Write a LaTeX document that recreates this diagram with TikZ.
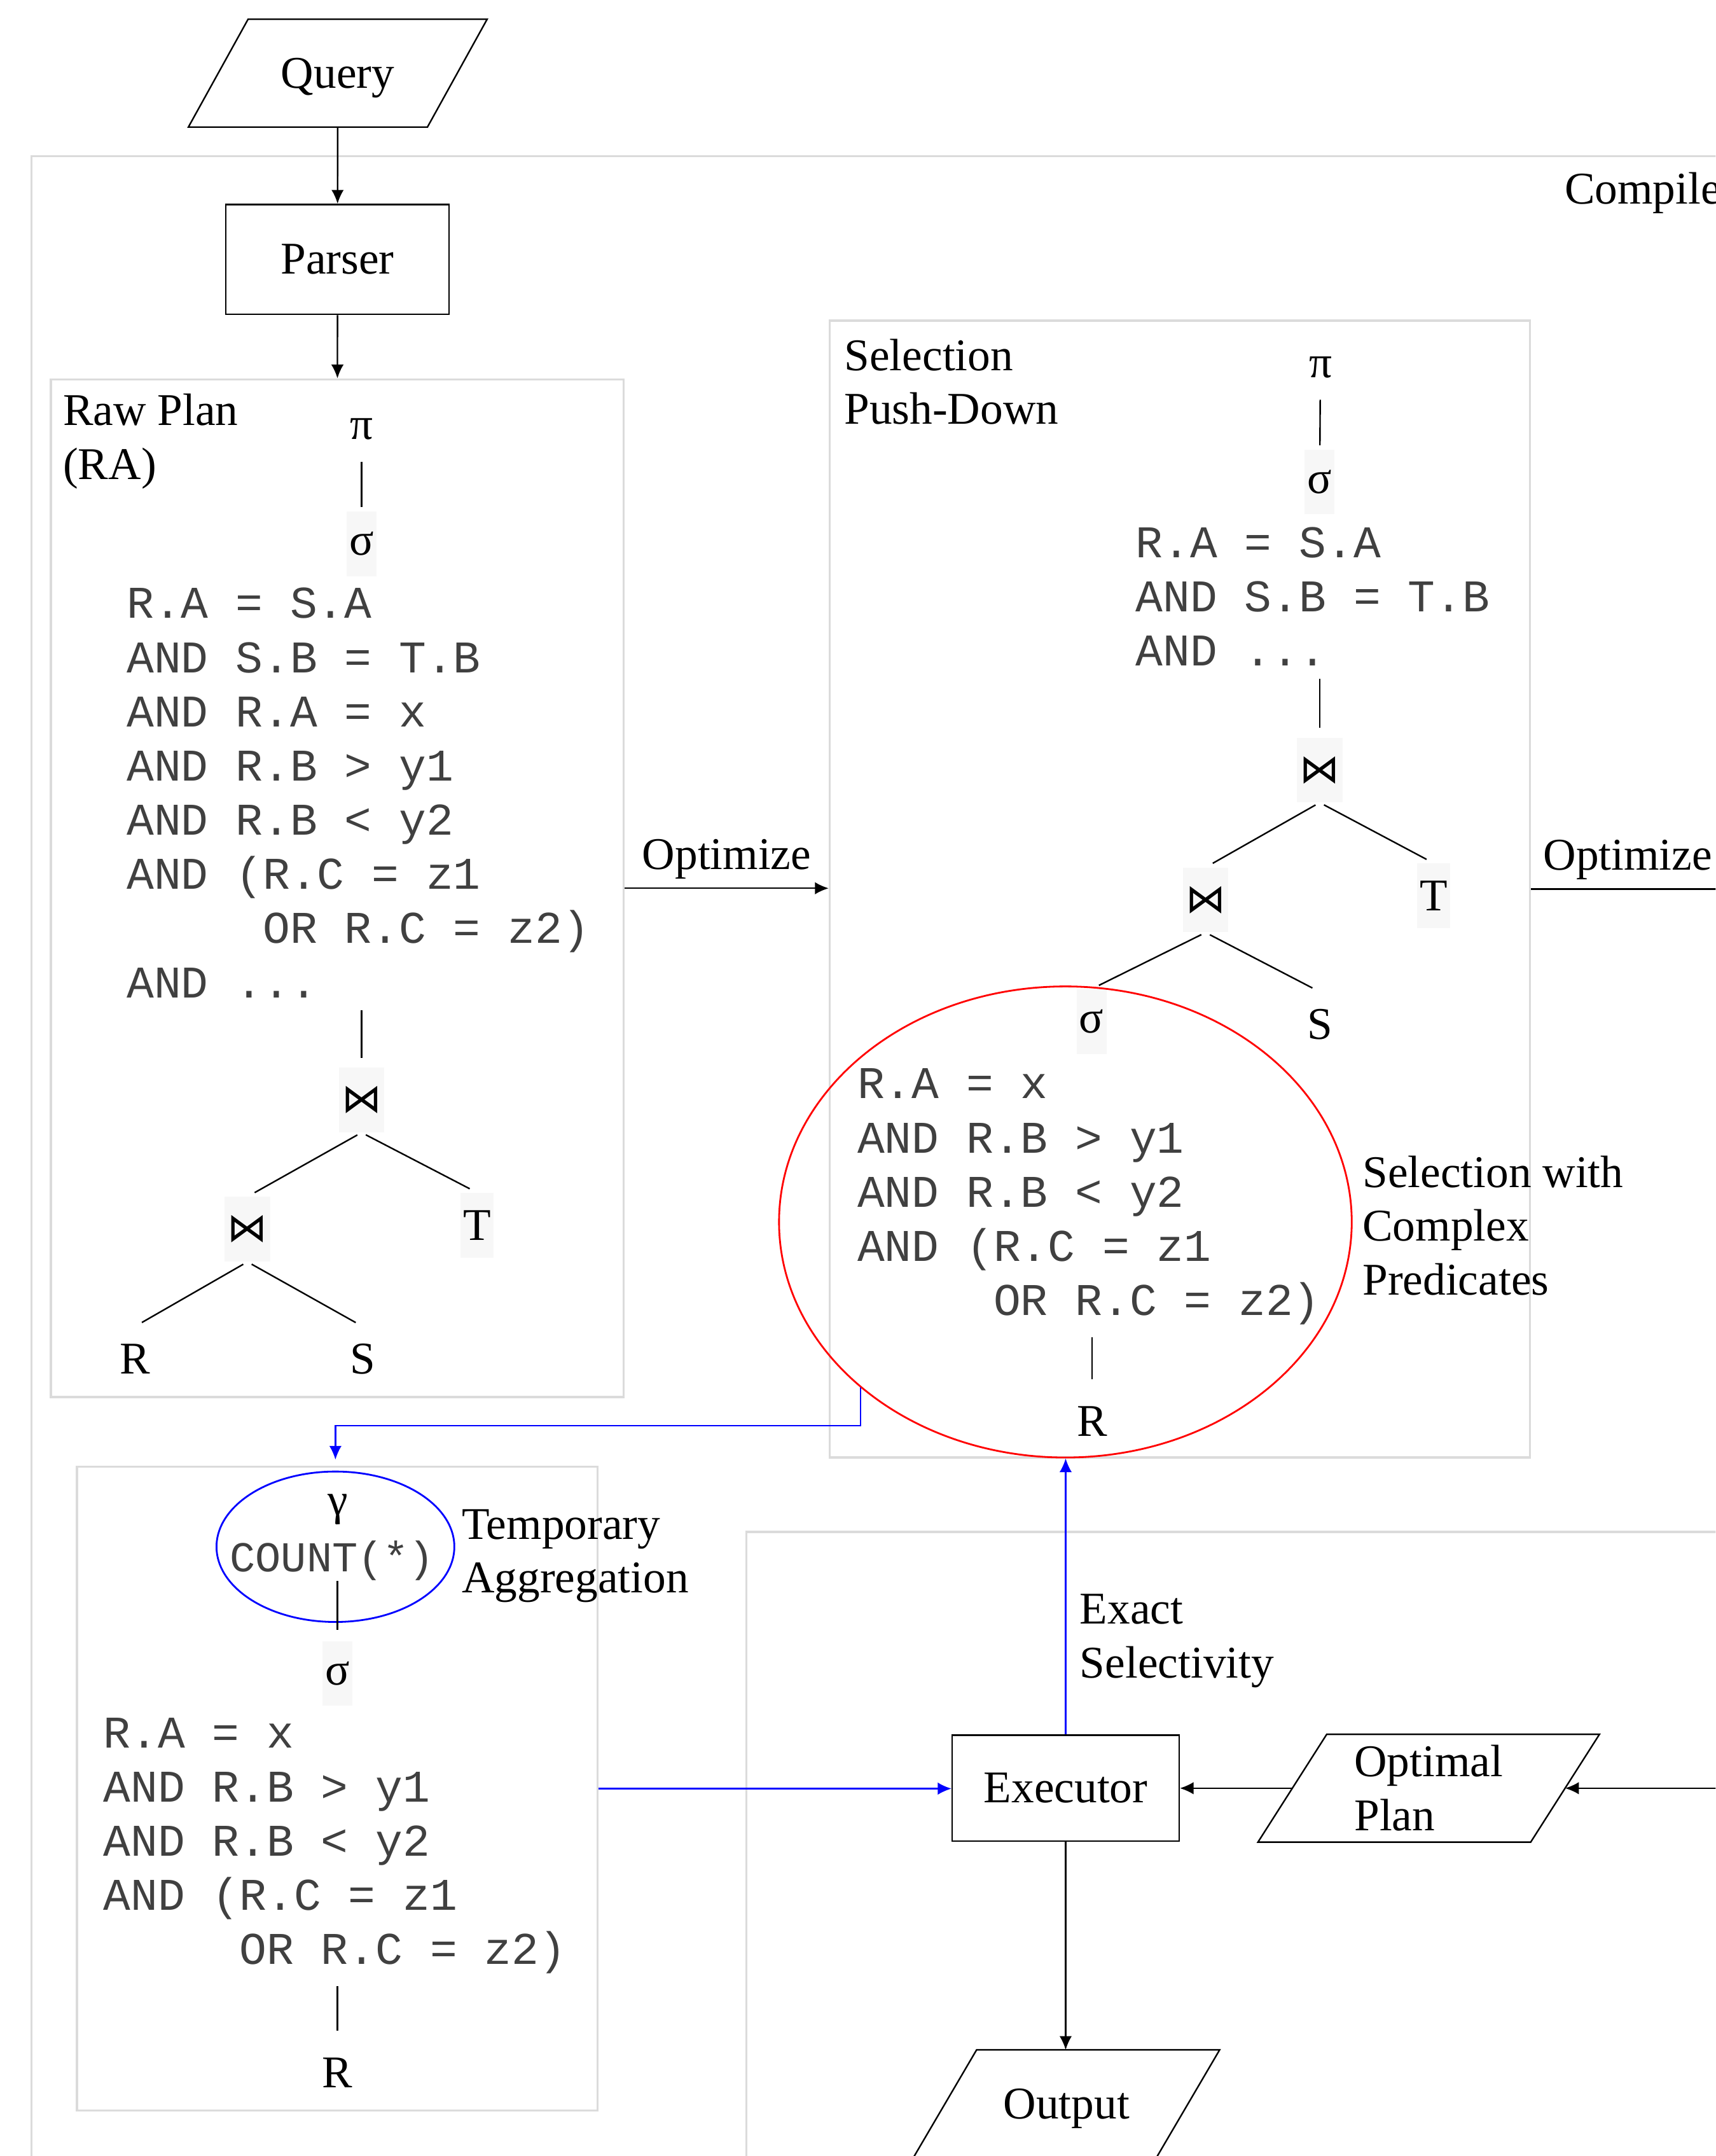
\documentclass[tikz,border=0pt]{standalone}
\usepackage{fontspec}
\setmainfont{Liberation Serif}
\setmonofont{Liberation Mono}
\newfontfamily\opfont{DejaVu Sans}
\usetikzlibrary{arrows.meta,shapes.geometric}

% slanted outline round an input/output node
\newcommand{\ioframe}[2]{%
  \draw[line width=1.1pt] ([xshift=#2]#1.north west) -- ([xshift=#2]#1.north east)
    -- ([xshift=-#2]#1.south east) -- ([xshift=-#2]#1.south west) -- cycle;}

\begin{document}
\begin{tikzpicture}[x=1pt,y=-1pt,
  font=\fontsize{33}{39.2}\selectfont,
  flow/.style={-{Latex[length=10pt,width=9pt]},line width=1.1pt},
  feed/.style={flow,blue},
  procbox/.style={draw,line width=1.1pt,inner sep=0pt,minimum width=164pt,minimum height=78pt},
  iobox/.style={inner sep=0pt,minimum width=#1,minimum height=78pt,align=left},
  greyframe/.style={draw=black!14,line width=1.6pt},
  planbox/.style={greyframe,inner sep=0pt},
  lbl/.style={align=left,inner sep=0pt,anchor=base west},
  cond/.style={lbl,font=\ttfamily\fontsize{33}{39.4}\selectfont,text=black!75},
  op/.style={inner sep=0pt,inner xsep=2pt,minimum width=20pt,minimum height=47pt,fill=black!3},
  leaf/.style={inner sep=0pt,minimum height=47pt},
  joinop/.style={op,font=\opfont\fontsize{29}{34}\selectfont},
  ring/.style={ellipse,draw,line width=1.3pt,inner sep=0pt},
  branch/.style={line width=1.1pt,shorten <=3.5pt,shorten >=6pt},
  stem/.style={line width=1.1pt,shorten <=9pt,shorten >=7pt},
  link/.style={line width=1.1pt,shorten >=3pt}
]

% Page
\useasboundingbox (0,0) rectangle (1248,1568);
\clip (0,0) rectangle (1248,1568);

% Frames
\draw[greyframe] (23,113.7) rectangle (1320,1620);
\node[lbl] (compiler) at (1138,148.4) {Compiler};
\draw[greyframe] (543,1114) rectangle (1320,1620);

% Query and parser
\node[iobox=173.5pt,text depth=0pt] (query) at (245.7,53.2) {Query};
\ioframe{query}{21.7pt}
\node[procbox,minimum width=162.5pt,minimum height=80pt] (parser) at (245.5,188.7) {Parser};

% Raw plan (multi-line texts placed at their last baseline)
\node[planbox,minimum width=416.7pt,minimum height=740pt] (rawbox) at (245.3,646) {};
\node[lbl] (rawlbl) at (45.7,348.6) {Raw Plan\\(RA)};
\node[leaf] (rawpi) at (263,312) {π};
\node[op] (rawsel) at (263,395.5) {σ};
\node[cond] (rawcond) at (92,725.5) {R.A = S.A\\AND S.B = T.B\\AND R.A = x\\AND R.B > y1\\AND R.B < y2\\AND (R.C = z1\\\phantom{AND (}OR R.C = z2)\\AND ...};
\node[joinop] (rawjoin) at (263,800) {⋈};
\node[joinop] (rawjoinrs) at (180,894) {⋈};
\node[op] (rawt) at (347,891) {T};
\node[leaf] (rawr) at (98,988.5) {R};
\node[leaf] (raws) at (264,988.5) {S};

% Selection push-down
\node[planbox,minimum width=509.4pt,minimum height=826.7pt] (selbox) at (858.3,646.6) {};
\node[lbl] (sellbl) at (614,308.6) {Selection\\Push-Down};
\node[leaf] (selpi) at (960.5,267) {π};
\node[op] (selsel) at (960,350.5) {σ};
\node[cond] (selcond) at (826,484.3) {R.A = S.A\\AND S.B = T.B\\AND ...};
\node[joinop] (seljoin) at (960,560) {⋈};
\node[joinop] (seljoinrs) at (877,654.5) {⋈};
\node[op] (selt) at (1043,651.5) {T};
\node[op] (selsigr) at (794,743) {σ};
\node[leaf] (sels) at (960,745) {S};
\node[cond] (ringcond) at (623.5,956.6) {R.A = x\\AND R.B > y1\\AND R.B < y2\\AND (R.C = z1\\\phantom{AND (}OR R.C = z2)};
\node[leaf] (selr) at (794.5,1033.6) {R};
\node[lbl] (ringlbl) at (991,941.8) {Selection with\\Complex\\Predicates};

% Temporary aggregation
\node[planbox,minimum width=378.8pt,minimum height=468.4pt] (tmpbox) at (245.4,1300.8) {};
\node[leaf] (gamma) at (245.6,1098) {γ};
\node[font=\ttfamily\fontsize{31}{37}\selectfont,text=black!75,inner sep=0pt] (count) at (241.7,1135) {COUNT(*)};
\node[lbl] (agglbl) at (335.8,1158.5) {Temporary\\Aggregation};
\node[op] (tmpsel) at (245.5,1217) {σ};
\node[cond] (tmpcond) at (75,1428.6) {R.A = x\\AND R.B > y1\\AND R.B < y2\\AND (R.C = z1\\\phantom{AND (}OR R.C = z2)};
\node[leaf] (tmpr) at (245.5,1507.6) {R};

% Rings
\node[ring,red,minimum width=416.6pt,minimum height=342.6pt] (selring) at (775,888.7) {};
\node[ring,blue,minimum width=173pt,minimum height=109.4pt] (agg) at (244,1124.9) {};

% Execution
\node[procbox,minimum width=165pt,minimum height=77pt] (exec) at (775.2,1300.5) {Executor};
\node[iobox=198pt] (optplan) at (1039.3,1300.5) {Optimal\\Plan};
\ioframe{optplan}{25pt}
\node[iobox=176.4pt,text depth=0pt] (output) at (775.8,1530) {Output};
\ioframe{output}{23pt}
\node[lbl] (exactlbl) at (785.4,1220.2) {Exact\\Selectivity};

% Tree edges
\draw[link] (rawpi) -- (rawsel);
\draw[stem] (rawcond.south -| rawjoin.north) -- (rawjoin.north);
\draw[branch] (rawjoin.south) -- (rawjoinrs.north);
\draw[branch] (rawjoin.south) -- (rawt.north);
\draw[branch] (rawjoinrs.south) -- (rawr.north);
\draw[branch] (rawjoinrs.south) -- (raws.north);

\draw[link] (selpi) -- (selsel);
\draw[stem] (selcond.south -| seljoin.north) -- (seljoin.north);
\draw[branch] (seljoin.south) -- (seljoinrs.north);
\draw[branch] (seljoin.south) -- (selt.north);
\draw[branch] (seljoinrs.south) -- (selsigr.north);
\draw[branch] (seljoinrs.south) -- (sels.north);
\draw[stem] (ringcond.south -| selr.north) -- (selr.north);

\draw[link,shorten >=8pt] (count.south -| tmpsel.north) -- (tmpsel.north);
\draw[stem] (tmpcond.south -| tmpr.north) -- (tmpr.north);

% Flow
\coordinate (offright) at (1300,646.6);
\coordinate (offright2) at (1300,1300.5);
\draw[flow] (query) -- (parser);
\draw[flow] (parser) -- (rawbox);
\draw[flow] (rawbox.east) -- node[above,inner sep=6pt] (optlbl) {Optimize} (rawbox.east -| selbox.west);
\draw[flow] (selbox.east) -- (offright);
\node[lbl] (optlbl2) at (1122.5,632.8) {Optimize};
\draw[flow] (offright2) -- (optplan);
\draw[flow] (optplan) -- (exec);
\draw[flow] (exec.south) -- (exec.south |- output.north);

% Feedback
\coordinate (feedturn) at (244,1036.9);
\draw[feed] (tmpbox.east) -- (tmpbox.east -| exec.west);
\draw[feed] (exec.north) -- (exec.north |- selring.south);
\draw[feed,shorten >=8pt] (selring.219.8) |- (feedturn) -- (agg.north);

\end{tikzpicture}
\end{document}
